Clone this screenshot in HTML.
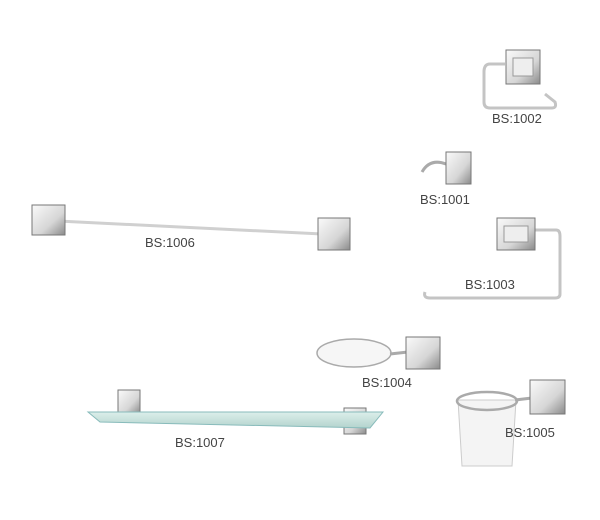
<!DOCTYPE html>
<html><head><style>
html,body{margin:0;padding:0;background:#fff;}
svg{display:block}
text{font-family:"Liberation Sans",sans-serif;font-size:13px;fill:#444;}
</style></head><body>
<svg width="600" height="520" viewBox="0 0 600 520">
<defs>
<linearGradient id="ch" x1="0" y1="0" x2="1" y2="1">
<stop offset="0" stop-color="#fafafa"/><stop offset="0.6" stop-color="#d6d6d6"/><stop offset="1" stop-color="#8a8a8a"/>
</linearGradient>
<linearGradient id="gl" x1="0" y1="0" x2="0" y2="1">
<stop offset="0" stop-color="#dcefeb"/><stop offset="1" stop-color="#b3d3cd"/>
</linearGradient>
</defs>
<!-- 1002 -->
<path d="M505 64 L490 64 Q484 64 484 72 L484 102 Q484 108 490 108 L552 108 Q557 108 555 102 L545 94" fill="none" stroke="#c4c4c4" stroke-width="3"/>
<rect x="506" y="50" width="34" height="34" fill="url(#ch)" stroke="#777"/>
<rect x="513" y="58" width="20" height="18" fill="#eee" stroke="#999"/>
<text x="492" y="123">BS:1002</text>
<!-- 1001 -->
<path d="M422 172 Q430 158 446 164" fill="none" stroke="#aaa" stroke-width="3"/>
<rect x="446" y="152" width="25" height="32" fill="url(#ch)" stroke="#777"/>
<text x="420" y="204">BS:1001</text>
<!-- 1006 -->
<line x1="58" y1="221" x2="322" y2="234" stroke="#d0d0d0" stroke-width="3"/>
<rect x="32" y="205" width="33" height="30" fill="url(#ch)" stroke="#777"/>
<rect x="318" y="218" width="32" height="32" fill="url(#ch)" stroke="#777"/>
<text x="145" y="247">BS:1006</text>
<!-- 1003 -->
<path d="M520 230 L556 230 Q560 230 560 236 L560 294 Q560 298 555 298 L430 298 Q423 298 425 292" fill="none" stroke="#c4c4c4" stroke-width="3"/>
<rect x="497" y="218" width="38" height="32" fill="url(#ch)" stroke="#777"/>
<rect x="504" y="226" width="24" height="16" fill="#eee" stroke="#999"/>
<text x="465" y="289">BS:1003</text>
<!-- 1004 -->
<ellipse cx="354" cy="353" rx="37" ry="14" fill="#f6f6f6" stroke="#aaa" stroke-width="1.5"/>
<path d="M390 354 L408 352" stroke="#aaa" stroke-width="3"/>
<rect x="406" y="337" width="34" height="32" fill="url(#ch)" stroke="#777"/>
<text x="362" y="387">BS:1004</text>
<!-- 1005 -->
<path d="M458 400 L462 466 L512 466 L516 400 Z" fill="#f4f4f4" stroke="#ccc"/>
<ellipse cx="487" cy="401" rx="30" ry="9" fill="none" stroke="#aaa" stroke-width="2.5"/>
<path d="M515 400 L532 398" stroke="#aaa" stroke-width="3"/>
<rect x="530" y="380" width="35" height="34" fill="url(#ch)" stroke="#777"/>
<text x="505" y="437">BS:1005</text>
<!-- 1007 -->
<rect x="118" y="390" width="22" height="24" fill="url(#ch)" stroke="#777"/>
<rect x="344" y="408" width="22" height="26" fill="url(#ch)" stroke="#777"/>
<path d="M88 412 L383 412 L370 428 L100 422 Z" fill="url(#gl)" stroke="#8bb" stroke-width="1"/>
<text x="175" y="447">BS:1007</text>
</svg>
</body></html>
